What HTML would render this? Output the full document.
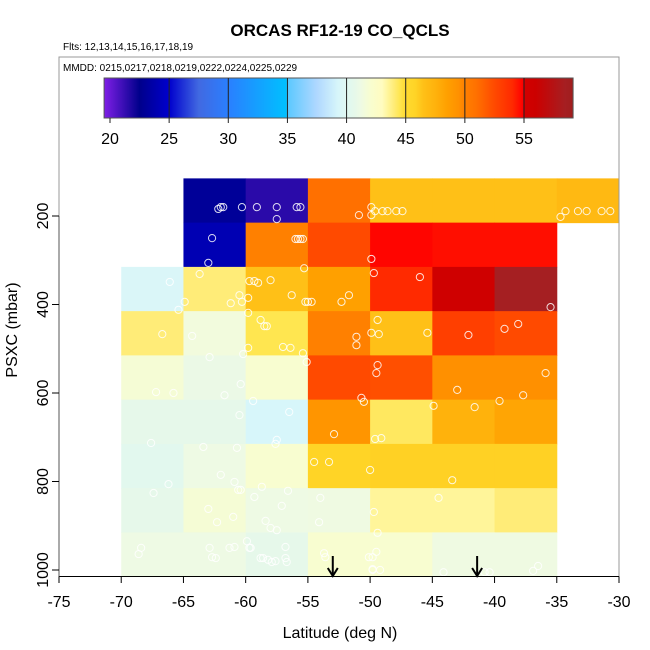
<!DOCTYPE html>
<html><head><meta charset="utf-8"><style>
html,body{margin:0;padding:0;background:#fff;}
svg{display:block;font-family:"Liberation Sans",sans-serif;}
</style></head><body>
<svg id="chart" width="650" height="650" viewBox="0 0 650 650">
<text x="340" y="36" text-anchor="middle" font-size="17" font-weight="bold">ORCAS RF12-19 CO_QCLS</text>
<text x="63" y="50" font-size="10">Flts: 12,13,14,15,16,17,18,19</text>
<g id="cells"></g>
<g id="pts"></g>
<g id="arrows"></g>
<rect x="59" y="57" width="560" height="519.5" fill="none" stroke="#999" stroke-width="1"/>
<line x1="59" y1="576.5" x2="619" y2="576.5" stroke="#000"/>
<line x1="59" y1="216" x2="59" y2="576.5" stroke="#555"/>
<text x="63" y="71" font-size="10">MMDD: 0215,0217,0218,0219,0222,0224,0225,0229</text>
<defs><linearGradient id="cbg" x1="0" x2="1" y1="0" y2="0"></linearGradient></defs>
<g id="cbar"></g>
<g id="xaxis"></g>
<g id="yaxis"></g>
<text x="340" y="638" text-anchor="middle" font-size="16">Latitude (deg N)</text>
<text transform="translate(17,330) rotate(-90)" text-anchor="middle" font-size="16">PSXC (mbar)</text>
</svg>
<script>
const latEdges = [-70,-65,-60,-55,-50,-45,-40,-35];
const rowCenters = [165,265,365,465,565,665,765,865,965];
const row0 = [null,23,21.5,51,46.5,46.5,46.5,47];
const row1 = [null,24,50,52.5,54.8,54.6,54.6];
const row2 = [39.5,44,46.5,48.5,54,55.5,58.5];
const row3 = [44,41.5,44.5,50,46.5,53,52.5];
const row4 = [41.8,41,42,52.5,52.3,49.5,49.5];
const row5 = [40.7,40.7,39.3,49.2,44.3,47.5,48.2];
const row6 = [40.3,41.2,42,45.8,45.9,45.9,45.9];
const row7 = [40.7,41.8,41.2,41.3,43.5,43.5,44];
const row8 = [41.2,41.2,40.7,42,42,41.3,41.3];
const rows = [row0,row1,row2,row3,row4,row5,row6,row7,row8];
const ptLat = [-62.2,-62.0,-61.8,-60.3,-59.1,-57.5,-55.9,-55.6,-57.5,-50.9,-49.9,-49.9,-49.6,-49.0,-48.6,-47.9,-47.4,-34.7,-34.3,-33.3,-32.6,-31.4,-30.7,
-62.7,-56.0,-55.8,-55.6,-55.4,-63.0,-49.9,-55.3,-63.7,-66.1,-59.7,-59.3,-59.0,-58.0,-49.7,-46.0,-60.5,-59.8,-61.2,-60.3,-64.9,-65.4,-56.3,-55.2,-55.0,-54.7,-52.3,-51.7,-35.5,
-59.8,-58.8,-58.5,-58.3,-49.4,-66.7,-64.3,-51.1,-51.1,-49.9,-49.3,-45.4,-42.1,-39.2,-38.1,-59.8,-57.0,-56.4,-55.4,-62.9,-60.2,-55.1,-49.4,-49.5,-35.9,
-67.2,-65.8,-61.7,-60.4,-50.7,-50.5,-43.0,-37.7,-59.4,-56.5,-60.5,-44.9,-41.6,-39.6,-52.9,-49.6,-49.1,-57.5,-57.6,-67.6,-63.4,-60.7,-54.5,-53.3,-50.0,-43.4,
-62.0,-66.2,-67.4,-60.9,-60.6,-60.4,-58.7,-56.6,-59.3,-57.1,-63.0,-61.0,-62.3,-58.4,-58.0,-57.5,-54.0,-54.1,-49.7,-49.4,-44.5,
-68.4,-68.6,-62.9,-62.7,-62.4,-61.3,-60.9,-59.9,-59.7,-59.6,-58.8,-58.6,-58.2,-57.9,-57.6,-56.8,-56.8,-56.7,-53.7,-53.6,-50.1,-49.8,-49.5,-49.8,-49.8,-49.2,-44.1,-40.8,-40.4,-36.9,-36.5];
const ptP = [184,180,180,180,180,180,180,180,207,198,180,198,189,189,189,189,189,202,189,189,189,189,189,
250,252,252,252,252,306,297,318,331,349,347,347,351,345,329,338,379,385,397,394,394,412,379,394,394,394,394,379,406,
419,435,449,449,435,467,471,473,492,464,467,464,469,455,444,498,496,498,510,519,512,530,537,555,555,
598,600,605,580,611,620,593,605,618,643,650,629,632,618,693,704,702,706,715,713,722,724,756,756,774,797,
785,806,826,801,819,819,812,821,835,855,862,880,892,889,905,910,837,892,869,916,837,
950,964,950,971,973,950,948,935,950,950,973,973,977,982,980,948,973,982,962,971,971,971,959,998,1000,1000,1005,1005,1005,1002,991];
const arrowLat = [-53,-41.4];
const xTicks = [-75,-70,-65,-60,-55,-50,-45,-40,-35,-30];
const yTicks = [200,400,600,800,1000];
const cbTicks = [20,25,30,35,40,45,50,55];

const stops = [[19.5,'#7f1fe6'],[22.5,'#00008b'],[25,'#0000cd'],[27.5,'#4169e1'],[30,'#2a7fff'],[34.9,'#00c0ff'],[35,'#5ac8ff'],[37.5,'#b0d8ff'],[39.3,'#d7f6fa'],[39.9,'#dff7f3'],[40.3,'#e2f8ee'],[40.7,'#e6f8ea'],[41.2,'#eefae4'],[42,'#f8fdd0'],[43,'#fffcc0'],[43.5,'#fff59a'],[44,'#ffec78'],[44.5,'#ffe650'],[45,'#ffda30'],[45.8,'#ffd426'],[46.5,'#ffc017'],[47.5,'#ffb20c'],[48.5,'#ffa000'],[49.5,'#ff9000'],[50,'#ff8000'],[51,'#ff7000'],[52.5,'#ff4a00'],[54,'#ff2a00'],[54.9,'#ff0000'],[55,'#d20000'],[56,'#cc0000'],[58.5,'#a51f22'],[59.2,'#a01c1c']];
function hex(c){return [1,3,5].map(i=>parseInt(c.substr(i,2),16));}
function cmap(v){
  if(v<=stops[0][0])return stops[0][1];
  for(let i=1;i<stops.length;i++){if(v<=stops[i][0]){const a=hex(stops[i-1][1]),b=hex(stops[i][1]);const t=(v-stops[i-1][0])/(stops[i][0]-stops[i-1][0]);return 'rgb('+a.map((x,k)=>Math.round(x+(b[k]-x)*t)).join(',')+')';}}
  return stops[stops.length-1][1];
}
const X = lat => 59 + (lat+75)*560/45;
const Y = p => 216 + (p-200)*0.4425;
const NS='http://www.w3.org/2000/svg';
function mk(tag,attrs,parent){const e=document.createElementNS(NS,tag);for(const k in attrs)e.setAttribute(k,attrs[k]);parent.appendChild(e);return e;}
const cells=document.getElementById('cells');
rows.forEach((r,ri)=>{r.forEach((v,ci)=>{if(v===null)return;
  const l=latEdges[0]+ci*5;const x0=X(l),x1=X(l+5),y0=Y(rowCenters[ri]-50),y1=Y(rowCenters[ri]+50);
  const e=mk('rect',{x:x0,y:y0,width:x1-x0+0.5,height:y1-y0+0.5,fill:cmap(v)},cells);
  
  
});});
const pts=document.getElementById('pts');
ptLat.forEach((la,i)=>{const e=mk('circle',{cx:X(la),cy:Y(ptP[i]),r:3.6,fill:'none',stroke:'#fff','stroke-opacity':0.85,'stroke-width':1},pts);
  
  
});
const ar=document.getElementById('arrows');
arrowLat.forEach(la=>{const g=mk('g',{},ar);
  
  
  const x=X(la);
  mk('line',{x1:x,y1:556,x2:x,y2:575,stroke:'#000','stroke-width':2},g);
  mk('path',{d:`M${x-5},568 L${x},576 L${x+5},568`,fill:'none',stroke:'#000','stroke-width':2},g);
});
// colorbar
const cb=document.getElementById('cbar');
const cbX = v => 110 + (v-20)*(524-110)/35;
const grad=document.getElementById('cbg');
const v0=19.5,v1=59.15;
stops.forEach(s=>{const o=Math.max(0,Math.min(1,(s[0]-v0)/(v1-v0)));mk('stop',{offset:o,'stop-color':s[1]},grad);});
const cr=mk('rect',{x:cbX(v0),y:78,width:cbX(v1)-cbX(v0),height:40,fill:'url(#cbg)',stroke:'#555','stroke-width':1},cb);


cbTicks.forEach(t=>{const x=cbX(t);
  if(t>20)mk('line',{x1:x,y1:78,x2:x,y2:118,stroke:'#222','stroke-width':1},cb);
  mk('line',{x1:x,y1:118,x2:x,y2:123,stroke:'#222','stroke-width':1},cb);
  const e=mk('text',{x:x,y:144,'text-anchor':'middle','font-size':16},cb);e.textContent=t;
  
  
});
const xa=document.getElementById('xaxis');
xTicks.forEach(t=>{const x=X(t);mk('line',{x1:x,y1:576.5,x2:x,y2:583,stroke:'#000'},xa);
  const e=mk('text',{x:x,y:607,'text-anchor':'middle','font-size':16},xa);e.textContent=t;
  
  
});
const ya=document.getElementById('yaxis');
yTicks.forEach(t=>{const y=Y(t);mk('line',{x1:52,y1:y,x2:59,y2:y,stroke:'#000'},ya);
  const e=mk('text',{transform:`translate(48,${y}) rotate(-90)`,'text-anchor':'middle','font-size':16},ya);e.textContent=t;
  
  
});
</script>
</body></html>
